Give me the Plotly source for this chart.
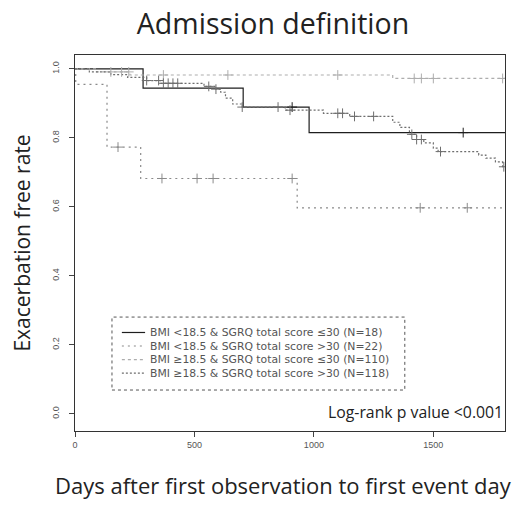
import plotly.graph_objects as go

# ---- data ----
names = [
    "BMI <18.5 & SGRQ total score ≤30 (N=18)",
    "BMI <18.5 & SGRQ total score >30 (N=22)",
    "BMI ≥18.5 & SGRQ total score ≤30 (N=110)",
    "BMI ≥18.5 & SGRQ total score >30 (N=118)",
]

s1_time = [0, 285, 704, 980, 1800]
s1_surv = [1.0, 0.944, 0.889, 0.815, 0.815]
s1_cens = [909, 1625]

s2_time = [0, 3, 134, 275, 930, 1800]
s2_surv = [1.0, 0.955, 0.773, 0.682, 0.597, 0.597]
s2_cens = [180, 364, 511, 578, 909, 1445, 1642]

s3_time = [0, 90, 230, 1330, 1800]
s3_surv = [1.0, 0.991, 0.982, 0.972, 0.972]
s3_cens = [150, 195, 225, 370, 640, 1100, 1420, 1450, 1500, 1790]

s4_time = [0, 60, 150, 220, 300, 360, 540, 590, 610, 630, 660, 700, 880, 1040,
           1150, 1330, 1360, 1400, 1430, 1460, 1500, 1520, 1690, 1720, 1760, 1790, 1800]
s4_surv = [1.0, 0.991, 0.983, 0.975, 0.966, 0.958, 0.949, 0.941, 0.932, 0.915, 0.898,
           0.889, 0.88, 0.871, 0.862, 0.845, 0.83, 0.81, 0.795, 0.785, 0.77, 0.76,
           0.75, 0.741, 0.73, 0.716, 0.716]
s4_cens = [300, 350, 370, 390, 410, 430, 560, 590, 700, 850, 900, 1100, 1120, 1170,
           1250, 1410, 1430, 1450, 1530, 1795]

x_ticks = [0, 500, 1000, 1500]
y_ticks = [0.0, 0.2, 0.4, 0.6, 0.8, 1.0]
y_tick_labels = ["0.0", "0.2", "0.4", "0.6", "0.8", "1.0"]

# ---- styles ----
colors = ["#1e1e1e", "#8a8a8a", "#adadad", "#6e6e6e"]
dashes = ["solid", "2px,4px", "3px,3px", "2px,2px"]
widths = [1.2, 1.2, 1.2, 1.2]


def surv_at(times, survs, t):
    v = survs[0]
    for ti, si in zip(times, survs):
        if ti <= t:
            v = si
    return v


series = [
    (s1_time, s1_surv, s1_cens),
    (s2_time, s2_surv, s2_cens),
    (s3_time, s3_surv, s3_cens),
    (s4_time, s4_surv, s4_cens),
]

fig = go.Figure()
for i, (t, s, c) in enumerate(series):
    fig.add_trace(go.Scatter(
        x=t, y=s, mode="lines", line_shape="hv", name=names[i], showlegend=False,
        line=dict(color=colors[i], width=widths[i], dash=dashes[i]),
    ))
for i, (t, s, c) in enumerate(series):
    fig.add_trace(go.Scatter(
        x=c, y=[surv_at(t, s, ci) for ci in c], mode="markers", showlegend=False,
        marker=dict(symbol="cross-thin", size=7, color=colors[i],
                    line=dict(color=colors[i], width=1)),
    ))

# ---- legend box (drawn as decoration, paper coords) ----
leg_x0, leg_x1, leg_y0, leg_y1 = 0.086, 0.767, 0.109, 0.303
row_y = [0.262, 0.226, 0.190, 0.154]
fig.add_shape(type="rect", xref="paper", yref="paper", x0=leg_x0, x1=leg_x1,
              y0=leg_y0, y1=leg_y1, line=dict(color="#555", width=1, dash="dot"))
for i in range(4):
    fig.add_shape(type="line", xref="paper", yref="paper", x0=0.109, x1=0.163,
                  y0=row_y[i], y1=row_y[i],
                  line=dict(color=colors[i], width=1.2, dash=dashes[i]))
    fig.add_annotation(text=names[i], xref="paper", yref="paper", x=0.170, y=row_y[i],
                       xanchor="left", yanchor="middle", showarrow=False,
                       font=dict(family="DejaVu Sans", size=10.8, color="#555"))

fig.add_annotation(
    text="Log-rank p value <0.001", xref="paper", yref="paper",
    x=1.0, y=0.05, xanchor="right", yanchor="middle", showarrow=False,
    font=dict(family="Open Sans", size=15.8, color="#222"),
)

# x-axis title as annotation (reference title sits a little left of plot centre)
fig.add_annotation(
    text="Days after first observation to first event day", xref="paper", yref="paper",
    x=0.484, y=-0.144, xanchor="center", yanchor="middle", showarrow=False,
    font=dict(family="Open Sans", size=22, color="#222"),
)

fig.update_layout(
    width=520, height=510,
    margin=dict(l=75, r=15, t=55, b=79),
    paper_bgcolor="white", plot_bgcolor="white",
    title=dict(text="Admission definition", x=0.525, xanchor="center", y=0.953,
               yanchor="middle", font=dict(family="Open Sans", size=28.5, color="#222")),
    showlegend=False,
    xaxis=dict(range=[0, 1800], tickvals=x_ticks, showgrid=False, zeroline=False,
               showline=True, mirror=True, linecolor="#333", linewidth=1.2,
               ticks="outside", ticklen=5, tickcolor="#444",
               tickfont=dict(family="Liberation Sans", size=9, color="#555")),
    yaxis=dict(range=[-0.05, 1.04], tickvals=y_ticks, ticktext=y_tick_labels,
               tickangle=-90, showgrid=False, zeroline=False,
               showline=True, mirror=True, linecolor="#333", linewidth=1.2,
               ticks="outside", ticklen=5, tickcolor="#444",
               tickfont=dict(family="Liberation Sans", size=9, color="#555"),
               ticklabelstandoff=6,
               title=dict(text="Exacerbation free rate",
                          font=dict(family="Open Sans", size=21, color="#222"), standoff=14)),
)

fig.write_html("out.html", config={"displayModeBar": False},
               post_script="document.body.style.margin='0px';")
